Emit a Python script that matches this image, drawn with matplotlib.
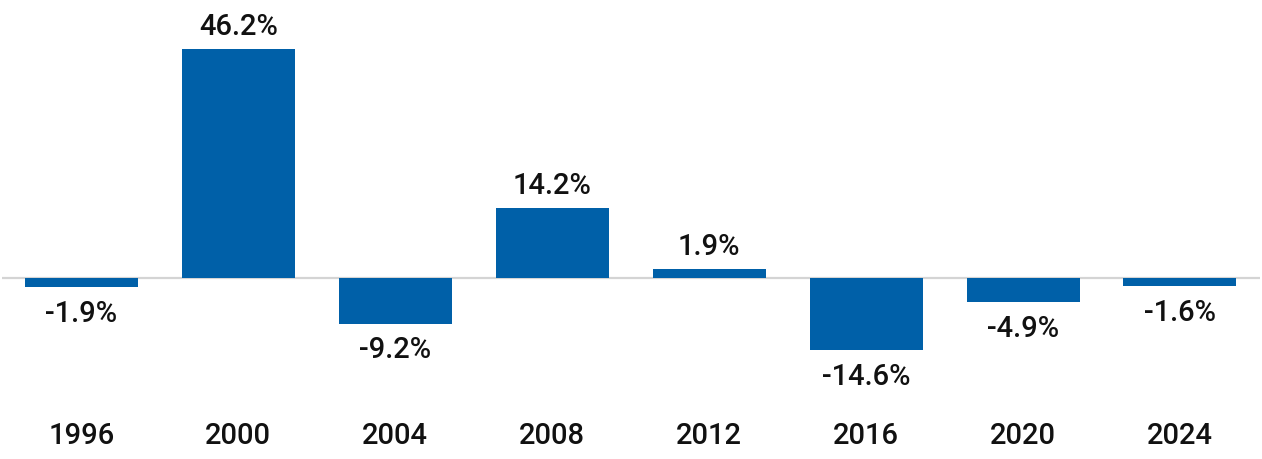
import matplotlib
matplotlib.use("Agg")
import matplotlib.pyplot as plt

years = ["1996", "2000", "2004", "2008", "2012", "2016", "2020", "2024"]
values = [-1.9, 46.2, -9.2, 14.2, 1.9, -14.6, -4.9, -1.6]
labels = ["-1.9%", "46.2%", "-9.2%", "14.2%", "1.9%", "-14.6%", "-4.9%", "-1.6%"]

plt.rcParams['font.family'] = ['Roboto', 'DejaVu Sans']

W, H = 1262, 459
fig = plt.figure(figsize=(W / 100, H / 100), dpi=100)
ax = fig.add_axes([2 / W, (H - 410) / H, 1258 / W, 400 / H])

px = 4.96  # pixels per percent
ax.set_ylim(-(410 - 278) / px, (278 - 10) / px)
ax.set_xlim(-0.506, 7.51)

x = list(range(len(years)))
ax.axhline(0, color="#d4d4d4", lw=1.6, zorder=1)
ax.bar(x, values, width=0.72, color="#0060a8", zorder=2)

for xi, v, lab in zip(x, values, labels):
    if v >= 0:
        ax.annotate(lab, (xi, v), xytext=(0, 10), textcoords="offset points",
                    ha="center", va="baseline", fontsize=21, fontweight="medium", color="#111111")
    else:
        ax.annotate(lab, (xi, v), xytext=(0, -25), textcoords="offset points",
                    ha="center", va="baseline", fontsize=21, fontweight="medium", color="#111111")

ax.set_xticks(x)
ax.set_xticklabels(years, fontsize=21, fontweight="medium", color="#111111")
ax.tick_params(axis="x", length=0, pad=9)
ax.set_yticks([])
for s in ax.spines.values():
    s.set_visible(False)

fig.savefig("out.png", dpi=100)
